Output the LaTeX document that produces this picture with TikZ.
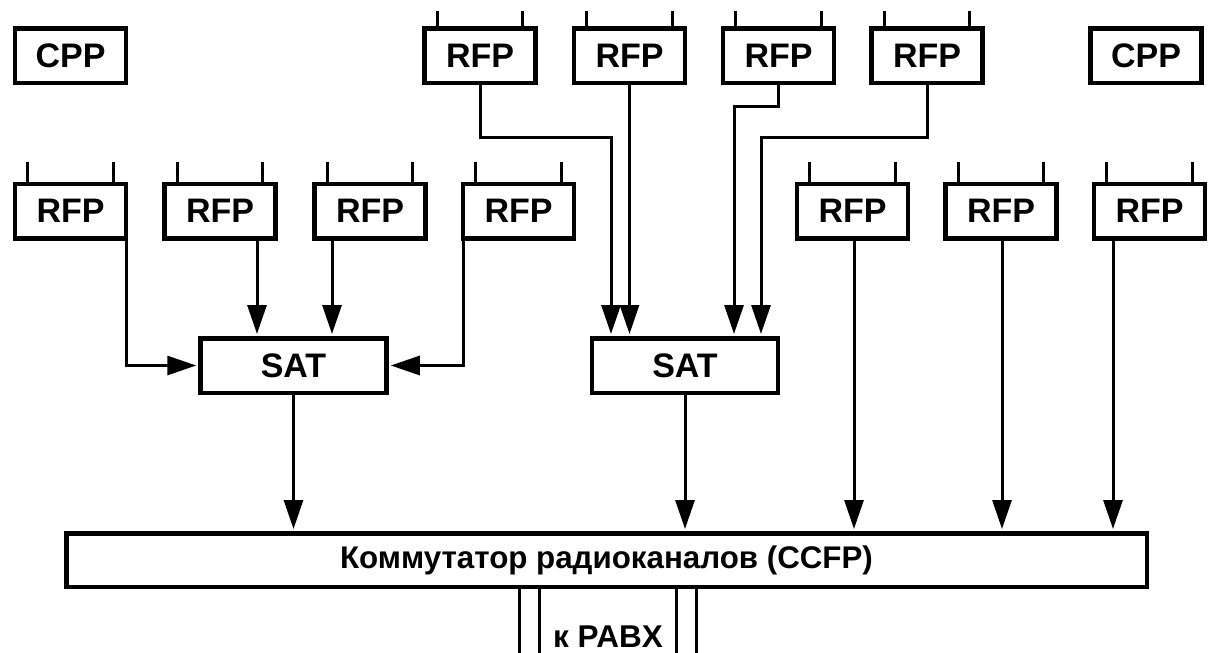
\documentclass[tikz,border=0pt]{standalone}
\usepackage{fontspec}
\setmainfont{Liberation Sans}
\usetikzlibrary{arrows.meta}
\tikzset{
  unit/.style={draw, line width=4.5pt, inner sep=0pt, minimum width=111pt,
    minimum height=54.5pt, font=\fontsize{34}{40}\selectfont\bfseries},
  widebox/.style={unit, minimum width=186pt},
  antenna/.style={line width=3pt},
  link/.style={line width=3pt},
  conn/.style={link, -{Triangle[length=29pt,width=19pt]}, shorten >=2pt},
}
% two aerial stubs on top of a radio unit, #2 = stub length
\newcommand{\antennas}[2]{%
  \draw[antenna] ([xshift=15pt]#1.north west) -- ++(0,-#2);
  \draw[antenna] ([xshift=-15pt]#1.north east) -- ++(0,-#2);}
\begin{document}
\begin{tikzpicture}[x=1pt,y=-1pt]
\useasboundingbox (0,0) rectangle (1208,653);

% upper row
\node[unit] (cppL) at (70.5,55.5) {CPP};
\node[unit] (ta) at (480,55.5) {RFP};
\node[unit] (tb) at (629.5,55.5) {RFP};
\node[unit] (tc) at (778.5,55.5) {RFP};
\node[unit] (td) at (927,55.5) {RFP};
\node[unit] (cppR) at (1146,55.5) {CPP};

% lower row
\node[unit] (ra) at (70.5,211) {RFP};
\node[unit] (rb) at (220,211) {RFP};
\node[unit] (rc) at (370,211) {RFP};
\node[unit] (rd) at (518.5,211) {RFP};
\node[unit] (re) at (852.5,211) {RFP};
\node[unit] (rf) at (1001,211) {RFP};
\node[unit] (rg) at (1149.5,211) {RFP};

\foreach \n in {ta,tb,tc,td}{\antennas{\n}{15}}
\foreach \n in {ra,rb,rc,rd,re,rf,rg}{\antennas{\n}{20}}

% concentrators
\node[widebox] (sat1) at (293.5,365.5) {SAT};
\node[widebox] (sat2) at (685,365.5) {SAT};

% switch
\node[unit, minimum width=1080.5pt, minimum height=53.5pt,
  font=\fontsize{31.3}{36}\selectfont\bfseries] (ccfp) at (606.5,560)
  {Коммутатор радиоканалов (CCFP)};

% first SAT inputs
\draw[conn] ([xshift=56pt]ra.south) |- (sat1.west);
\draw[conn] ([xshift=37pt]rb.south) -- ([xshift=37pt]rb.south |- sat1.north);
\draw[conn] ([xshift=-38pt]rc.south) -- ([xshift=-38pt]rc.south |- sat1.north);
\draw[conn] ([xshift=-55.5pt]rd.south) |- (sat1.east);

% second SAT inputs
\coordinate (ka) at (611,137);
\coordinate (kc) at (734,106);
\coordinate (kd) at (761,137);
\draw[conn] (ta.south) |- (ka) -- (ka |- sat2.north);
\draw[conn] (tb.south) -- (tb.south |- sat2.north);
\draw[conn] (tc.south) |- (kc) -- (kc |- sat2.north);
\draw[conn] (td.south) |- (kd) -- (kd |- sat2.north);

% feeds into the switch
\draw[conn] (sat1.south) -- (sat1.south |- ccfp.north);
\draw[conn] (sat2.south) -- (sat2.south |- ccfp.north);
\draw[conn] ([xshift=1.5pt]re.south) -- ([xshift=1.5pt]re.south |- ccfp.north);
\draw[conn] ([xshift=1pt]rf.south) -- ([xshift=1pt]rf.south |- ccfp.north);
\draw[conn] ([xshift=-36.5pt]rg.south) -- ([xshift=-36.5pt]rg.south |- ccfp.north);

% trunk to the PABX
\coordinate (p1) at (519,653);
\coordinate (p2) at (539,653);
\coordinate (p3) at (676,653);
\coordinate (p4) at (696,653);
\foreach \p in {p1,p2,p3,p4}{\draw[link] (ccfp.south -| \p) -- (\p);}
\node[anchor=base, inner sep=0pt, font=\fontsize{31.5}{36}\selectfont\bfseries]
  (pabx) at (608,647) {к PABX};
\end{tikzpicture}
\end{document}
